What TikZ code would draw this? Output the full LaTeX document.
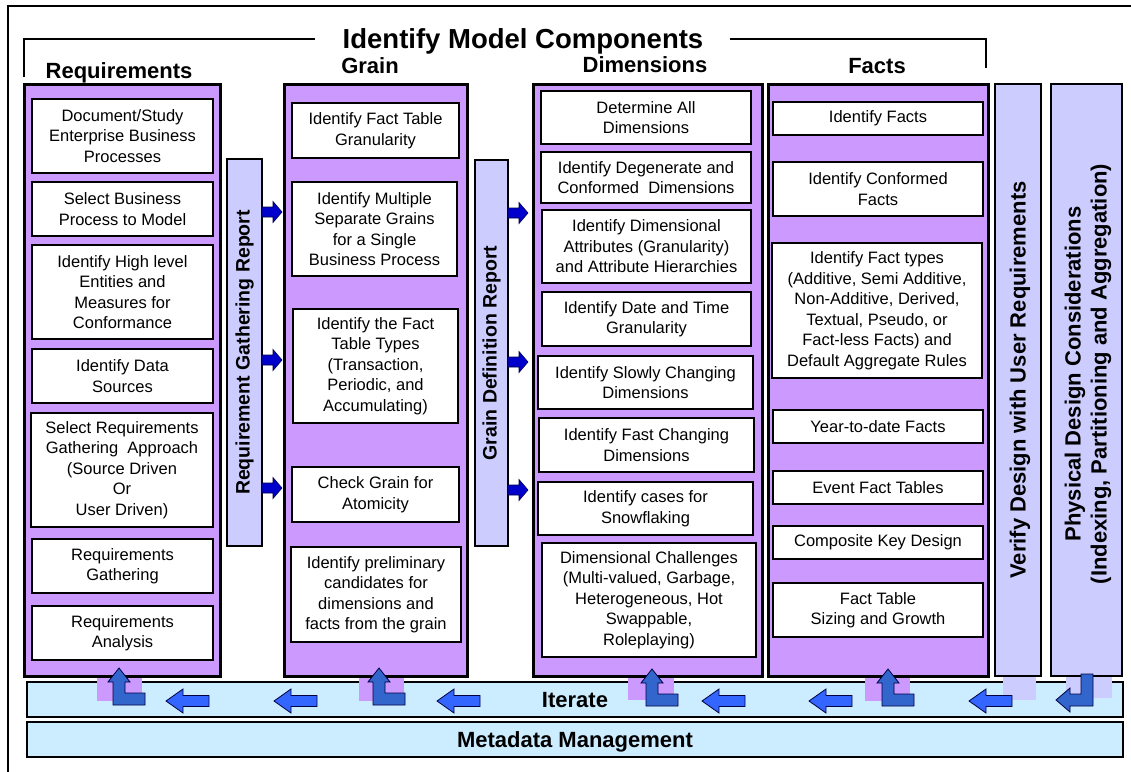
\documentclass[tikz,border=0pt]{standalone}
\usepackage{fontspec}
\setmainfont{Liberation Sans}
\definecolor{colpurple}{HTML}{CC99FF}
\definecolor{barlav}{HTML}{CCCCFF}
\definecolor{itblue}{HTML}{CCECFF}
\definecolor{rarrfill}{HTML}{0000CC}
\definecolor{larrfill}{HTML}{3366FF}
\definecolor{arrline}{HTML}{000044}
\definecolor{lfill}{HTML}{3366CC}
\newcommand\bnode[7]{\node[#2, minimum width={(#5-#3)*1pt}, minimum height={(#6-#4)*1pt}] (#1) at ({(#3+#5)/2},{(#4+#6)/2}) {#7};}
\tikzset{
  x=1pt, y=-1pt,
  bx/.style={draw=black, line width=2.4pt, fill=white, align=center, inner sep=0pt, font=\fontsize{16.5}{20.5}\selectfont},
  colbox/.style={draw=black, line width=3pt, fill=colpurple, inner sep=0pt},
  sidecol/.style={draw=black, line width=2.6pt, fill=barlav, inner sep=0pt},
  barbox/.style={draw=black, line width=2pt, fill=barlav, inner sep=0pt},
  itbox/.style={draw=black, line width=2pt, fill=itblue, inner sep=0pt},
  hdr/.style={anchor=base, font=\bfseries\fontsize{22}{26}\selectfont},
  vtext/.style={rotate=90, align=center, font=\bfseries\fontsize{19.5}{22}\selectfont},
  vbig/.style={rotate=90, align=center, font=\bfseries\fontsize{22}{26}\selectfont},
  rarrow/.pic={\draw[fill=rarrfill, draw=arrline, line width=0.6pt] (0,-5) -- (11,-5) -- (11,-10.5) -- (20,0) -- (11,10.5) -- (11,5) -- (0,5) -- cycle;},
  larrow/.pic={\draw[fill=larrfill, draw=arrline, line width=0.8pt] (0,0) -- (17,-12) -- (17,-5.5) -- (43,-5.5) -- (43,5.5) -- (17,5.5) -- (17,12) -- cycle;},
  uparrow/.pic={\draw[fill=lfill, draw=arrline, line width=0.8pt] (0,0) -- (0,-23) -- (-5,-23) -- (6,-37) -- (17,-23) -- (12,-23) -- (12,-12) -- (32,-12) -- (32,0) -- cycle;},
}
\begin{document}
\begin{tikzpicture}
\useasboundingbox (0,0) rectangle (1131,771);
\fill[white] (0,0) rectangle (1131,771);
% frame
\coordinate (frBL) at (8,775);
\coordinate (frTL) at (8,6);
\coordinate (frTR) at (1135,6);
\draw[line width=1.5pt] (frBL) -- (frTL) -- (frTR);
% title and bracket
\node[anchor=base, font=\bfseries\fontsize{27.5}{30}\selectfont] (title) at (523,48) {Identify Model Components};
\coordinate (brL) at (24,77);
\coordinate (brLt) at (24,39);
\coordinate (brLe) at (315,39);
\coordinate (brRs) at (730,39);
\coordinate (brRt) at (986,39);
\coordinate (brR) at (986,68);
\draw[line width=2pt] (brL) -- (brLt) -- (brLe);
\draw[line width=2pt] (brRs) -- (brRt) -- (brR);
% headers
\node[hdr] (hreq) at (119,78) {Requirements};
\node[hdr] (hgrain) at (370,73) {Grain};
\node[hdr] (hdim) at (645,72) {Dimensions};
\node[hdr] (hfacts) at (877,73) {Facts};
% iterate and metadata bars
\bnode{iter}{itbox}{27}{682}{1123}{717}{}
\bnode{meta}{itbox}{27}{722}{1123}{757}{}
\node[anchor=base, font=\bfseries\fontsize{22}{26}\selectfont] (itertext) at (575,707) {Iterate};
\node[anchor=base, font=\bfseries\fontsize{22}{26}\selectfont] (metatext) at (575,747) {Metadata Management};
% tabs
\fill[colpurple] (97,672) rectangle (142,701);
\fill[colpurple] (359,672) rectangle (404,701);
\fill[colpurple] (628,672) rectangle (674,700);
\fill[colpurple] (865,672) rectangle (910,701);
\fill[barlav] (1003,672) rectangle (1036,700);
\fill[barlav] (1066,672) rectangle (1112,698);
% columns
\bnode{reqcol}{colbox}{24}{84}{220}{676}{}
\bnode{graincol}{colbox}{284}{84}{467}{676}{}
\bnode{dimcol}{colbox}{533}{84}{762}{676}{}
\bnode{factcol}{colbox}{768}{84}{988}{676}{}
\bnode{vercol}{sidecol}{995}{84}{1041}{676}{}
\bnode{phycol}{sidecol}{1051}{84}{1122}{676}{}
\node[vbig] (vertext) at (1020,380) {Verify Design with User Requirements};
\node[vbig] (phytext) at (1088,374) {Physical Design Considerations\\(Indexing, Partitioning and Aggregation)};
% requirements boxes
\bnode{r1}{bx}{32}{99}{213}{173}{Document/Study\\Enterprise Business\\Processes}
\bnode{r2}{bx}{32}{182}{213}{236}{Select Business\\Process to Model}
\bnode{r3}{bx}{32}{245}{213}{339}{Identify High level\\Entities and\\Measures for\\Conformance}
\bnode{r4}{bx}{32}{349}{213}{403}{Identify Data\\Sources}
\bnode{r5}{bx}{31}{413}{213}{527}{Select Requirements\\Gathering\ \ Approach\\(Source Driven\\Or\\User Driven)}
\bnode{r6}{bx}{32}{539}{213}{593}{Requirements\\Gathering}
\bnode{r7}{bx}{32}{606}{213}{660}{Requirements\\Analysis}
% grain boxes
\bnode{g1}{bx}{292}{103}{459}{158}{Identify Fact Table\\Granularity}
\bnode{g2}{bx}{292}{182}{457}{276}{Identify Multiple\\Separate Grains\\for a Single\\Business Process}
\bnode{g3}{bx}{293}{309}{458}{423}{Identify the Fact\\Table Types\\(Transaction,\\Periodic, and\\Accumulating)}
\bnode{g4}{bx}{292}{467}{459}{522}{Check Grain for\\Atomicity}
\bnode{g5}{bx}{291}{547}{461}{642}{Identify preliminary\\candidates for\\dimensions and\\facts from the grain}
% dimension boxes
\bnode{d1}{bx}{541}{91}{751}{144}{Determine All\\Dimensions}
\bnode{d2}{bx}{541}{152}{751}{203}{Identify Degenerate and\\Conformed\ \ Dimensions}
\bnode{d3}{bx}{542}{210}{751}{283}{Identify Dimensional\\Attributes (Granularity)\\and Attribute Hierarchies}
\bnode{d4}{bx}{542}{292}{751}{346}{Identify Date and Time\\Granularity}
\bnode{d5}{bx}{538}{356}{753}{409}{Identify Slowly Changing\\Dimensions}
\bnode{d6}{bx}{539}{418}{754}{472}{Identify Fast Changing\\Dimensions}
\bnode{d7}{bx}{538}{482}{753}{535}{Identify cases for\\Snowflaking}
\bnode{d8}{bx}{542}{543}{756}{657}{Dimensional Challenges\\(Multi-valued, Garbage,\\Heterogeneous, Hot\\Swappable,\\Roleplaying)}
% facts boxes
\bnode{f1}{bx}{773}{102}{983}{135}{Identify Facts}
\bnode{f2}{bx}{773}{162}{983}{216}{Identify Conformed\\Facts}
\bnode{f3}{bx}{772}{243}{982}{378}{Identify Fact types\\(Additive, Semi Additive,\\Non-Additive, Derived,\\Textual, Pseudo, or\\Fact-less Facts) and\\Default Aggregate Rules}
\bnode{f4}{bx}{773}{410}{983}{443}{Year-to-date Facts}
\bnode{f5}{bx}{773}{471}{983}{504}{Event Fact Tables}
\bnode{f6}{bx}{773}{526}{983}{559}{Composite Key Design}
\bnode{f7}{bx}{773}{583}{983}{637}{Fact Table\\Sizing and Growth}
% report bars
\bnode{rgbar}{barbox}{227}{159}{262}{546}{}
\bnode{gdbar}{barbox}{475}{160}{508}{546}{}
\node[vtext] (rgtext) at (rgbar.center) {Requirement Gathering Report};
\node[vtext] (gdtext) at (gdbar.center) {Grain Definition Report};
% right arrows
\pic at (262,212) {rarrow};
\pic at (262,360) {rarrow};
\pic at (262,488) {rarrow};
\pic at (508,213) {rarrow};
\pic at (508,362) {rarrow};
\pic at (508,490) {rarrow};
% left arrows along iterate
\pic at (166,701) {larrow};
\pic at (274,701) {larrow};
\pic at (437,701) {larrow};
\pic at (702,701) {larrow};
\pic at (809,701) {larrow};
\pic at (969,701) {larrow};
% bent up arrows
\pic at (113,705) {uparrow};
\pic at (373,705) {uparrow};
\pic at (646,706) {uparrow};
\pic at (882,706) {uparrow};
% physical bent arrow
\draw[fill=lfill, draw=arrline, line width=0.8pt] (1093,674) -- (1093,706) -- (1070,706) -- (1070,712) -- (1056,700) -- (1070,688) -- (1070,694) -- (1081,694) -- (1081,674) -- cycle;
\end{tikzpicture}
\end{document}
